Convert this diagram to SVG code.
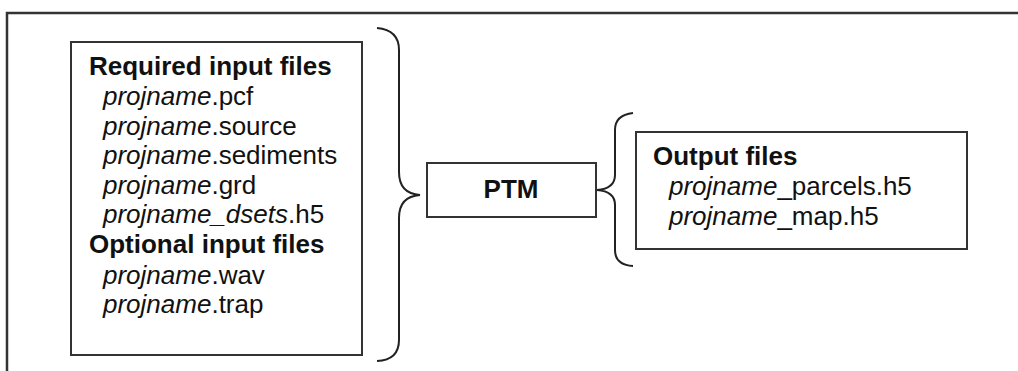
<svg xmlns="http://www.w3.org/2000/svg" width="1018" height="371" viewBox="0 0 1018 371">
<style>
.box{fill:#fff;stroke:#333;stroke-width:2}
.br{fill:none;stroke:#222;stroke-width:2}
text{font-family:"Liberation Sans",Arial,sans-serif;font-size:26px;fill:#111}
.b{font-weight:bold}
.i{font-style:italic}
</style>
<rect width="1018" height="371" fill="#fff"/>
<g id="frame"><path d="M7,371 L7,13 L1018,13" fill="none" stroke="#333" stroke-width="2.5"/></g>
<g id="inputs">
<rect class="box" x="71" y="42" width="291" height="313"/>
<text x="89" y="75" class="b">Required input files</text>
<text x="103" y="105"><tspan class="i">projname</tspan>.pcf</text>
<text x="103" y="134.5"><tspan class="i">projname</tspan>.source</text>
<text x="103" y="164"><tspan class="i">projname</tspan>.sediments</text>
<text x="103" y="194"><tspan class="i">projname</tspan>.grd</text>
<text x="103" y="223"><tspan class="i">projname_dsets</tspan>.h5</text>
<text x="89" y="252.5" class="b">Optional input files</text>
<text x="103" y="284"><tspan class="i">projname</tspan>.wav</text>
<text x="103" y="313"><tspan class="i">projname</tspan>.trap</text>
</g>
<g id="ptm">
<rect class="box" x="427" y="163" width="169" height="54"/>
<text x="511" y="198" class="b" text-anchor="middle">PTM</text>
</g>
<g id="outputs">
<rect class="box" x="636" y="132" width="331" height="117"/>
<text x="653" y="165" class="b">Output files</text>
<text x="669" y="195"><tspan class="i">projname</tspan>_parcels.h5</text>
<text x="669" y="225"><tspan class="i">projname</tspan>_map.h5</text>
</g>
<g id="connectors">
<path class="br" d="M377,28 Q399,30 399,50 L399,172 C399,186 405,194 420,195 C405,196 399,204 399,218 L399,340 Q399,360 377,361"/>
<path class="br" d="M633,113 Q615,115 615,130 L615,175 C615,184 610,189 597,190 C610,191 615,196 615,205 L615,250 Q615,265 633,266"/>
</g>
</svg>
